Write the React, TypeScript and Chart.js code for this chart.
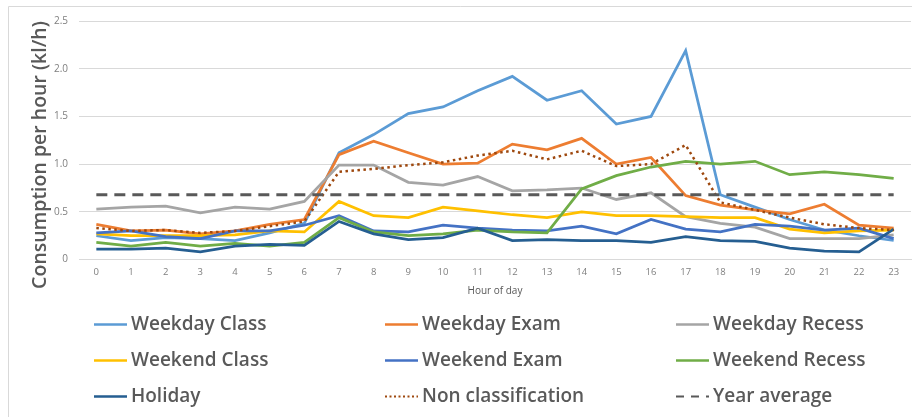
import React, { useEffect, useRef } from "react";
import { Chart, registerables } from "chart.js";

Chart.register(...registerables);

const hours = ["0", "1", "2", "3", "4", "5", "6", "7", "8", "9", "10", "11", "12", "13", "14", "15", "16", "17", "18", "19", "20", "21", "22", "23"];

const weekdayClass = [0.25, 0.20, 0.23, 0.22, 0.20, 0.28, 0.38, 1.12, 1.31, 1.53, 1.60, 1.77, 1.92, 1.67, 1.77, 1.42, 1.50, 2.19, 0.68, 0.55, 0.42, 0.31, 0.25, 0.20];
const weekdayExam = [0.37, 0.30, 0.31, 0.27, 0.30, 0.37, 0.42, 1.10, 1.24, 1.12, 1.00, 1.01, 1.21, 1.15, 1.27, 1.00, 1.07, 0.67, 0.57, 0.52, 0.48, 0.58, 0.36, 0.33];
const weekdayRecess = [0.53, 0.55, 0.56, 0.49, 0.55, 0.53, 0.61, 0.99, 0.99, 0.81, 0.78, 0.87, 0.72, 0.73, 0.75, 0.63, 0.70, 0.45, 0.38, 0.34, 0.22, 0.22, 0.22, 0.26];
const weekendClass = [0.27, 0.25, 0.25, 0.25, 0.26, 0.30, 0.29, 0.61, 0.46, 0.44, 0.55, 0.51, 0.47, 0.44, 0.50, 0.46, 0.46, 0.45, 0.44, 0.44, 0.32, 0.28, 0.30, 0.31];
const weekendExam = [0.28, 0.30, 0.24, 0.22, 0.30, 0.30, 0.36, 0.46, 0.30, 0.29, 0.36, 0.33, 0.31, 0.30, 0.35, 0.27, 0.42, 0.32, 0.29, 0.37, 0.35, 0.31, 0.33, 0.22];
const weekendRecess = [0.18, 0.14, 0.18, 0.14, 0.17, 0.14, 0.18, 0.44, 0.29, 0.25, 0.27, 0.31, 0.29, 0.28, 0.74, 0.88, 0.97, 1.03, 1.00, 1.03, 0.89, 0.92, 0.89, 0.85];
const holiday = [0.11, 0.11, 0.12, 0.08, 0.14, 0.16, 0.15, 0.40, 0.27, 0.21, 0.23, 0.33, 0.20, 0.21, 0.20, 0.20, 0.18, 0.24, 0.20, 0.19, 0.12, 0.09, 0.08, 0.32];
const nonClassification = [0.33, 0.30, 0.31, 0.28, 0.30, 0.35, 0.40, 0.92, 0.95, 0.99, 1.02, 1.09, 1.14, 1.05, 1.14, 0.98, 1.00, 1.20, 0.60, 0.52, 0.44, 0.37, 0.33, 0.31];
const yearAverage = [0.68, 0.68, 0.68, 0.68, 0.68, 0.68, 0.68, 0.68, 0.68, 0.68, 0.68, 0.68, 0.68, 0.68, 0.68, 0.68, 0.68, 0.68, 0.68, 0.68, 0.68, 0.68, 0.68, 0.68];

const seriesNames = ["Weekday Class", "Weekday Exam", "Weekday Recess", "Weekend Class", "Weekend Exam", "Weekend Recess", "Holiday", "Non classification", "Year average"];
const seriesValues = [weekdayClass, weekdayExam, weekdayRecess, weekendClass, weekendExam, weekendRecess, holiday, nonClassification, yearAverage];
const seriesColors = ["#5B9BD5", "#ED7D31", "#A5A5A5", "#FFC000", "#4472C4", "#70AD47", "#255E91", "#9E480E", "#595959"];

const yTitle = "Consumption per hour (kl/h)";
const xTitle = "Hour of day";

const FONT = "'Open Sans', 'DejaVu Sans', sans-serif";

const decorPlugin = {
  id: "decor",
  beforeDraw(chart: any) {
    const ctx = chart.ctx;
    ctx.save();
    ctx.strokeStyle = "#d9d9d9";
    ctx.lineWidth = 1;
    ctx.beginPath();
    ctx.moveTo(8.5, 417);
    ctx.lineTo(8.5, 6.5);
    ctx.lineTo(912, 6.5);
    ctx.stroke();
    ctx.restore();
  },
  afterDraw(chart: any) {
    const ctx = chart.ctx;
    ctx.save();
    // y axis title
    ctx.fillStyle = "#595959";
    ctx.font = `600 19.5px ${FONT}`;
    ctx.textAlign = "center";
    ctx.textBaseline = "middle";
    ctx.translate(40, 155);
    ctx.rotate(-Math.PI / 2);
    ctx.fillText(yTitle, 0, 0);
    ctx.restore();

    // legend
    const colX = [94, 385, 676];
    const rowY = [324, 360, 396];
    const lineLen = 33;
    chart.data.datasets.forEach((ds: any, i: number) => {
      const x = colX[i % 3];
      const y = rowY[Math.floor(i / 3)];
      ctx.save();
      ctx.strokeStyle = ds.borderColor;
      ctx.lineWidth = ds.borderDash && ds.borderDash.length ? 2 : 2.5;
      if (ds.borderDash && ds.borderDash.length) {
        ctx.setLineDash(ds.label === "Year average" ? [8, 7] : [2, 2.5]);
      }
      ctx.beginPath();
      ctx.moveTo(x, y + 0.5);
      ctx.lineTo(x + lineLen, y + 0.5);
      ctx.stroke();
      ctx.setLineDash([]);
      ctx.fillStyle = "#595959";
      ctx.font = `600 19px ${FONT}`;
      ctx.textAlign = "left";
      ctx.textBaseline = "middle";
      ctx.fillText(ds.label, x + lineLen + 4, y + 1);
      ctx.restore();
    });
  },
};

export default function App() {
  const ref = useRef<HTMLCanvasElement>(null);
  useEffect(() => {
    const canvas = ref.current;
    if (!canvas) return;
    const datasets = seriesNames.map((name, i) => {
      const isAvg = name === "Year average";
      const isDot = name === "Non classification";
      return {
        label: name,
        data: seriesValues[i],
        borderColor: seriesColors[i],
        backgroundColor: seriesColors[i],
        borderWidth: isAvg ? 3 : isDot ? 2.5 : 2.75,
        borderDash: isAvg ? [11, 7] : isDot ? [2.5, 3.5] : [],
        pointRadius: 0,
        pointHoverRadius: 0,
        tension: 0,
        fill: false,
        order: -i,
      };
    });
    const chart = new Chart(canvas, {
      type: "line",
      data: { labels: hours, datasets },
      options: {
        animation: false,
        responsive: false,
        devicePixelRatio: 1,
        layout: { padding: { left: 0, right: 1, top: 21, bottom: 120 } },
        plugins: {
          legend: { display: false },
          tooltip: { enabled: false },
          title: { display: false },
        },
        scales: {
          x: {
            offset: true,
            grid: { display: false, drawTicks: false },
            border: { display: true, color: "#d9d9d9" },
            ticks: { color: "#7f7f7f", font: { family: FONT, size: 9.5 }, padding: 7, maxRotation: 0, autoSkip: false },
            title: { display: true, text: xTitle, color: "#595959", font: { family: FONT, size: 10 }, padding: { top: 0, bottom: 0 } },
          },
          y: {
            min: 0,
            max: 2.5,
            ticks: { stepSize: 0.5, color: "#7f7f7f", font: { family: FONT, size: 10 }, padding: 11 },
            grid: { color: "#d9d9d9", drawTicks: false },
            border: { display: false },
            afterFit: (axis: any) => {
              axis.width = 79;
            },
          },
        },
      },
      plugins: [decorPlugin],
    });
    return () => chart.destroy();
  }, []);
  return (
    <div style={{ position: "fixed", left: 0, top: 0, width: 912, height: 417, background: "#fff" }}>
      <canvas ref={ref} width={912} height={417} style={{ display: "block", width: 912, height: 417 }} />
    </div>
  );
}
